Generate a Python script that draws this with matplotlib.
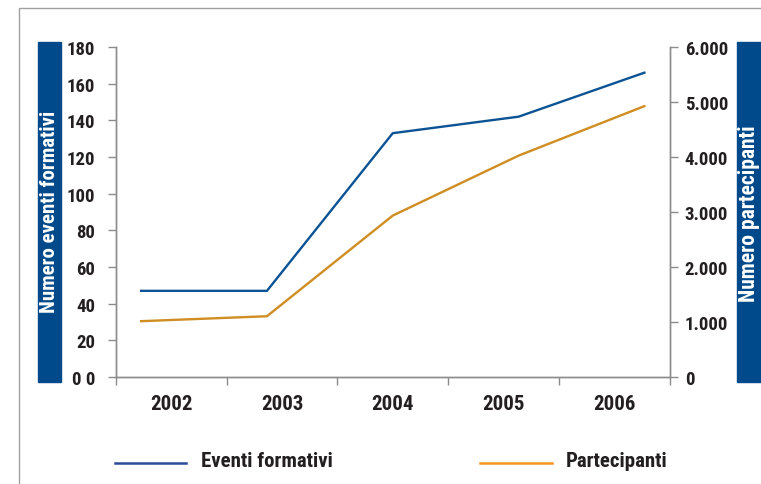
import numpy as np
import matplotlib
matplotlib.use("Agg")
import matplotlib.pyplot as plt
from matplotlib.patches import Rectangle
from matplotlib.lines import Line2D
from matplotlib import font_manager

# pick a narrow bold face, closest to the reference's condensed type
installed = set(f.name for f in font_manager.fontManager.ttflist)
family = 'DejaVu Sans'
for name in ['Roboto Condensed', 'Archivo Narrow', 'PT Sans Narrow', 'Liberation Sans Narrow']:
    if name in installed:
        family = name
        break
plt.rcParams['font.family'] = [family, 'DejaVu Sans']
plt.rcParams['font.weight'] = 'bold'
plt.rcParams['font.stretch'] = 'condensed'

# data
years = ['2002', '2003', '2004', '2005', '2006']
eventi = [47, 47, 133, 142, 166]
partecipanti = [1015, 1105, 2935, 4025, 4925]
left_ticks = [0, 20, 40, 60, 80, 100, 120, 140, 160, 180]
left_labels = ['0 0', '20', '40', '60', '80', '100', '120', '140', '160', '180']
right_ticks = [0, 1000, 2000, 3000, 4000, 5000, 6000]
right_labels = ['0', '1.000', '2.000', '3.000', '4.000', '5.000', '6.000']

blue = '#0b5394'
orange = '#cf8d22'
box_blue = '#004a8c'
axis_gray = '#8c8c8c'
text_col = '#231f20'

fig = plt.figure(figsize=(7.61, 4.85), dpi=100)
ax = fig.add_axes([0.1524, 0.2206, 0.7274, 0.6804])
ax2 = ax.twinx()

x = np.arange(len(years))
ax.plot(x, eventi, color=blue, lw=1.7)
ax2.plot(x, partecipanti, color=orange, lw=1.7)

xmin, xmax = -0.2, 4.2
ax.set_xlim(xmin, xmax)
ax.set_ylim(0, 180)
ax2.set_ylim(0, 6000)

# category boundaries as ticks, year names centred in each bin
edges = np.linspace(xmin, xmax, len(years) + 1)
centres = (edges[:-1] + edges[1:]) / 2
ax.set_xticks(edges)
ax.set_xticklabels([])
ax.set_xticks(centres, minor=True)
ax.set_xticklabels(years, minor=True)
ax.tick_params(axis='x', which='major', direction='out', length=6,
               color=axis_gray, width=1)
ax.tick_params(axis='x', which='minor', length=0, pad=12,
               labelsize=15, labelcolor=text_col)

ax.set_yticks(left_ticks)
ax.set_yticklabels(left_labels)
ax.tick_params(axis='y', direction='out', length=6, color=axis_gray, width=1,
               pad=9, labelsize=13.5, labelcolor=text_col)
ax2.set_yticks(right_ticks)
ax2.set_yticklabels(right_labels)
ax2.tick_params(axis='y', direction='out', length=6, color=axis_gray, width=1,
                pad=5, labelsize=13.5, labelcolor=text_col)

for a in (ax, ax2):
    for s in a.spines.values():
        s.set_color(axis_gray)
        s.set_linewidth(1)
    a.spines['top'].set_visible(False)

# blue side boxes with axis titles
fig.patches.append(Rectangle((38 / 761, 1 - 383 / 485), 23 / 761, 340 / 485,
                             transform=fig.transFigure, color=box_blue, zorder=0))
fig.patches.append(Rectangle((737 / 761, 1 - 383 / 485), 30 / 761, 340 / 485,
                             transform=fig.transFigure, color=box_blue, zorder=0))
fig.text(50 / 761, 1 - 212 / 485, 'Numero eventi formativi', rotation=90,
         color='white', fontsize=15, ha='center', va='center')
fig.text(749 / 761, 1 - 214 / 485, 'Numero partecipanti', rotation=90,
         color='white', fontsize=15.5, ha='center', va='center')

# outer frame (top and left only)
fig.lines.append(Line2D([19 / 761, 19 / 761, 1], [0, 1 - 9 / 485, 1 - 9 / 485],
                        transform=fig.transFigure, color='#a0a0a0', lw=1))

# legend drawn by hand
leg_y = 1 - 464 / 485
fig.lines.append(Line2D([115 / 761, 186 / 761], [leg_y, leg_y],
                        transform=fig.transFigure, color='#2b4c9b', lw=1.8))
fig.text(201 / 761, leg_y + 0.006, 'Eventi formativi', fontsize=15,
         color=text_col, va='center')
fig.lines.append(Line2D([480 / 761, 552 / 761], [leg_y, leg_y],
                        transform=fig.transFigure, color='#f7941d', lw=1.8))
fig.text(566 / 761, leg_y + 0.006, 'Partecipanti', fontsize=15,
         color=text_col, va='center')

fig.savefig('out.png', dpi=100)
